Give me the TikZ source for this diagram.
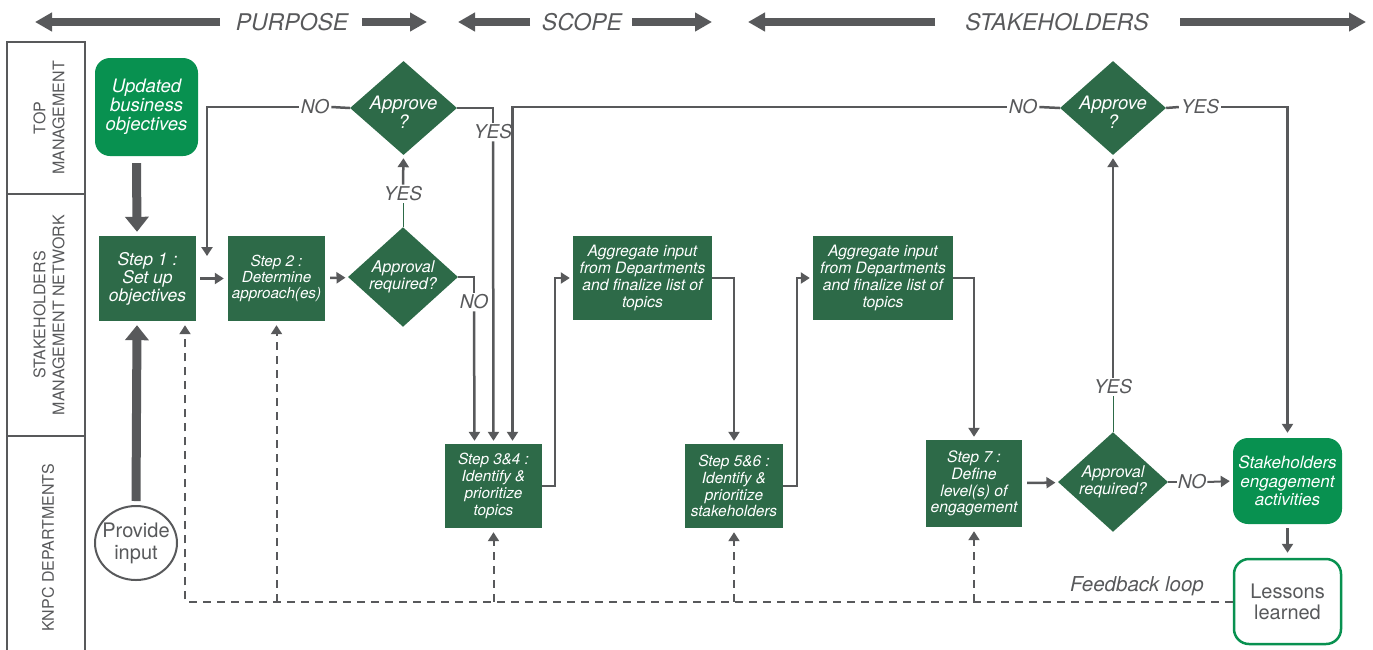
\documentclass[tikz,border=0pt]{standalone}
\usepackage{fontspec}
\setmainfont{TeX Gyre Heros}
\usetikzlibrary{shapes.geometric,arrows.meta}
\definecolor{dg}{RGB}{45,106,72}
\definecolor{bg}{RGB}{8,145,80}
\definecolor{gr}{RGB}{88,89,91}
\begin{document}
\begin{tikzpicture}[x=1pt,y=-1pt,
  stepbox/.style={fill=dg, text=white, align=center, inner sep=0pt, font=\itshape\fontsize{15.7}{16.8}\selectfont},
  roundbox/.style={fill=bg, text=white, align=center, inner sep=0pt, rounded corners=15pt, font=\itshape\fontsize{17}{18.7}\selectfont},
  decision/.style={diamond, fill=dg, text=white, align=center, inner sep=0pt, font=\itshape\fontsize{16.2}{16.5}\selectfont},
  dtext/.style={text=white, align=center, inner sep=0pt, font=\itshape\fontsize{18.5}{19.5}\selectfont},
  arr/.style={draw=gr, line width=2.5pt, -{Triangle[width=11pt,length=9pt]}, shorten >=3pt},
  plain/.style={draw=gr, line width=2.5pt},
  thin/.style={draw=dg, line width=1pt},
  fb/.style={draw=gr, line width=2pt, dash pattern=on 8pt off 6pt, -{Triangle[width=11pt,length=9pt]}, shorten >=4pt},
  thick/.style={draw=gr, line width=9pt, -{Triangle[width=23pt,length=15pt]}},
  banner/.style={draw=gr, line width=8pt, -{Triangle[width=18pt,length=17pt]}},
  lbl/.style={text=gr, fill=white, inner sep=2pt, font=\itshape\fontsize{19}{22}\selectfont},
  lane/.style={text=gr, rotate=90, align=center, font=\fontsize{16}{19}\selectfont},
  head/.style={text=gr, font=\itshape\fontsize{23}{26}\selectfont}
]
\useasboundingbox (0,0) rectangle (1373,649);

% banner
\node[head] (hp) at (292,22) {PURPOSE};
\node[head] (hs) at (582,22) {SCOPE};
\node[head] (hk) at (1057,22) {STAKEHOLDERS};
\coordinate (b1) at (220,22); \coordinate (b1e) at (35,22);
\coordinate (b2) at (362,22); \coordinate (b2e) at (427,22);
\coordinate (b3) at (530,22); \coordinate (b3e) at (458,22);
\coordinate (b4) at (632,22); \coordinate (b4e) at (712,22);
\coordinate (b5) at (935,22); \coordinate (b5e) at (748,22);
\coordinate (b6) at (1180,22); \coordinate (b6e) at (1366,22);
\draw[banner] (b1) -- (b1e);
\draw[banner] (b2) -- (b2e);
\draw[banner] (b3) -- (b3e);
\draw[banner] (b4) -- (b4e);
\draw[banner] (b5) -- (b5e);
\draw[banner] (b6) -- (b6e);

% lanes
\draw[gr, line width=2.5pt] (7,652) -- (7,42) -- (85,42) -- (85,652);
\draw[gr, line width=2.5pt] (7,194) -- (85,194);
\draw[gr, line width=2.5pt] (7,436) -- (85,436);
\node[lane] (l1) at (49,118) {TOP\\MANAGEMENT};
\node[lane] (l2) at (49,315) {STAKEHOLDERS\\MANAGEMENT NETWORK};
\node[lane] (l3) at (48,548) {KNPC DEPARTMENTS};

% nodes
\node[roundbox, minimum width=103pt, minimum height=98pt, font=\itshape\fontsize{18.5}{19}\selectfont] (ubo) at (146.5,107) {Updated\\business\\objectives};
\node[stepbox, minimum width=97pt, minimum height=85pt, font=\itshape\fontsize{17.5}{18}\selectfont] (s1) at (147.5,278.5) {Step 1 :\\Set up\\objectives};
\node[stepbox, minimum width=97pt, minimum height=85pt, font=\itshape\fontsize{15.2}{16}\selectfont] (s2) at (276.5,278.5) {Step 2 :\\Determine\\approach(es)};
\node[decision, minimum width=110pt, minimum height=94pt] (ar1) at (403,277) {Approval\\required?};
\node[decision, minimum width=107pt, minimum height=94pt] (ap1) at (403.5,108) {};
\node[dtext] (ap1t) at ([yshift=-4pt]ap1.center) {Approve\\?};
\node[stepbox, minimum width=97pt, minimum height=84pt, font=\itshape\fontsize{15.3}{16.8}\selectfont] (s34) at (493.5,486) {Step 3\&4 :\\Identify \&\\prioritize\\topics};
\node[stepbox, minimum width=139pt, minimum height=84pt] (ag1) at (642.5,278) {Aggregate input\\from Departments\\and finalize list of\\topics};
\node[stepbox, minimum width=98pt, minimum height=84pt, font=\itshape\fontsize{15.4}{16.8}\selectfont] (s56) at (734,486) {Step 5\&6 :\\Identify \&\\prioritize\\stakeholders};
\node[stepbox, minimum width=140pt, minimum height=84pt] (ag2) at (883,278) {Aggregate input\\from Departments\\and finalize list of\\topics};
\node[stepbox, minimum width=96pt, minimum height=87pt] (s7) at (974,483.5) {Step 7 :\\Define\\level(s) of\\engagement};
\node[decision, minimum width=110pt, minimum height=94pt] (ar2) at (1113,482) {Approval\\required?};
\node[decision, minimum width=106pt, minimum height=94pt] (ap2) at (1113,108) {};
\node[dtext] (ap2t) at ([yshift=-4pt]ap2.center) {Approve\\?};
\node[roundbox, minimum width=109pt, minimum height=86pt] (sea) at (1287.5,481) {Stakeholders\\engagement\\activities};
\node[draw=bg, line width=2.5pt, rounded corners=15pt, minimum width=107pt, minimum height=85pt, text=gr, align=center, font=\fontsize{20}{21}\selectfont] (ll) at (1287.5,601.5) {Lessons\\learned};
\node[ellipse, draw=gr, line width=2pt, minimum width=82pt, minimum height=74pt, inner xsep=-8pt, inner ysep=0pt, text=gr, align=center, font=\fontsize{20}{22}\selectfont] (pi) at (136,543) {Provide\\input};

% thick arrows
\draw[thick] ([xshift=-10pt,yshift=-7pt]ubo.south) -- ([xshift=-10.5pt,yshift=4pt]s1.north);
\draw[thick] ([yshift=4pt]pi.north) -- ([xshift=-10.5pt,yshift=-4pt]s1.south);

% labels
\node[lbl] (yes1) at (403,194) {YES};
\node[lbl] (no1) at (315,107) {NO};
\node[lbl] (yes2) at (493,132) {YES};
\node[lbl] (no2) at (474,302) {NO};
\node[lbl] (no3) at (1023,107) {NO};
\node[lbl] (yes3) at (1200,107) {YES};
\node[lbl] (yes4) at (1113,387) {YES};
\node[lbl, fill=none, inner sep=1pt] (no4) at (1192,482) {NO};
\node[text=gr, font=\itshape\fontsize{20.5}{22}\selectfont] (fbl) at (1137,586) {Feedback loop};

% connectors
\coordinate (noend) at (207,256);
\draw[arr, shorten <=4pt, shorten >=4pt] (s1) -- (s2);
\draw[arr, shorten <=5pt, shorten >=3pt] (s2) -- (ar1);
\draw[thin] (ar1.north) -- (yes1.south);
\draw[arr] (yes1.north) -- (ap1.south);
\draw[plain] (ap1.west) -- (no1.east);
\draw[arr, shorten >=0pt] (no1.west) -| (noend);
\draw[plain] (ap1.east) -| (yes2.north);
\draw[arr] (yes2.south) -- (s34.north);
\draw[plain] (ar1.east) -| (no2.north);
\draw[arr] (no2.south) -- ([xshift=-19pt]s34.north);
\draw[plain] (ap2.west) -- (no3.east);
\draw[arr] (no3.west) -| ([xshift=19pt]s34.north);
\draw[plain] (ap2.east) -- (yes3.west);
\draw[arr, shorten >=5pt] (yes3.east) -| (sea.north);
\draw[arr] (s34.east) -- ++(13,0) |- (ag1.west);
\draw[arr] (ag1.east) -| (s56.north);
\draw[arr] (s56.east) -- ++(14,0) |- (ag2.west);
\draw[arr] (ag2.east) -| (s7.north);
\draw[arr, shorten <=5pt] (s7) -- (ar2);
\draw[thin] (ar2.north) -- (yes4.south);
\draw[arr] (yes4.north) -- (ap2.south);
\draw[plain, line width=1.5pt] (ar2.east) -- (no4.west);
\draw[arr, line width=2pt] (no4.east) -- (sea.west);
\draw[arr, shorten <=4pt, shorten >=5pt] (sea.south) -- (ll.north);

% feedback loop
\coordinate (fbc) at (185,601.5);
\draw[fb] (ll.west) -- (fbc) -- ([xshift=37.5pt]s1.south);
\draw[fb] (s2.south |- fbc) -- (s2.south);
\draw[fb] (s34.south |- fbc) -- (s34.south);
\draw[fb] (s56.south |- fbc) -- (s56.south);
\draw[fb] (s7.south |- fbc) -- (s7.south);
\end{tikzpicture}
\end{document}
